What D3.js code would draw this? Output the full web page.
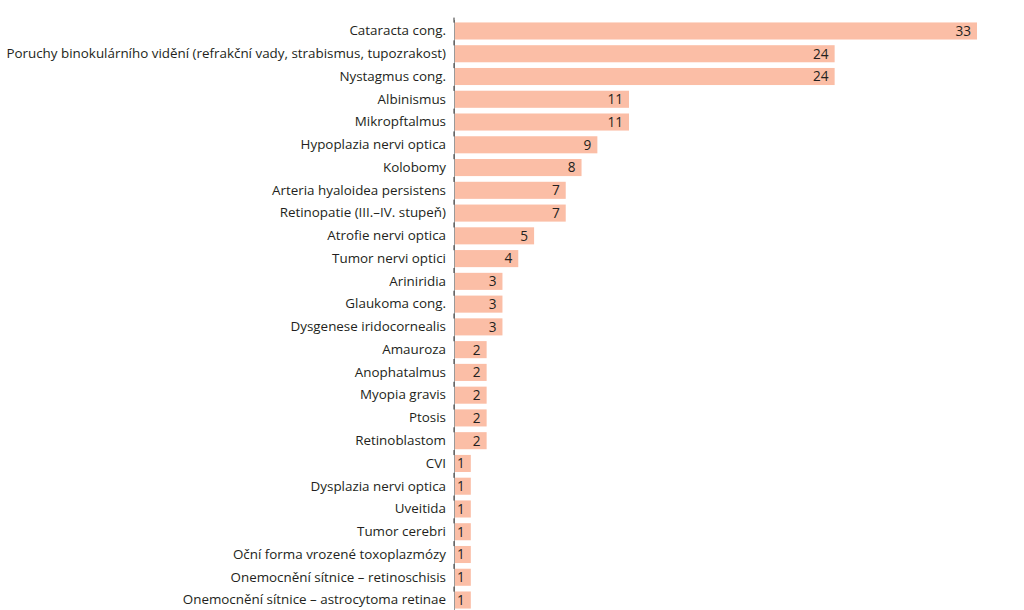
<!DOCTYPE html>
<html>
<head>
<meta charset="utf-8">
<script src="https://cdn.jsdelivr.net/npm/d3@7"></script>
<style>
  body { margin: 0; background: #fff; }
  text { font-family: "Open Sans", sans-serif; fill: #231f20; }
</style>
</head>
<body>
<svg id="chart" width="1024" height="610"></svg>
<script>
var labels = [
  "Cataracta cong.",
  "Poruchy binokulárního vidění (refrakční vady, strabismus, tupozrakost)",
  "Nystagmus cong.",
  "Albinismus",
  "Mikropftalmus",
  "Hypoplazia nervi optica",
  "Kolobomy",
  "Arteria hyaloidea persistens",
  "Retinopatie (III.–IV. stupeň)",
  "Atrofie nervi optica",
  "Tumor nervi optici",
  "Ariniridia",
  "Glaukoma cong.",
  "Dysgenese iridocornealis",
  "Amauroza",
  "Anophatalmus",
  "Myopia gravis",
  "Ptosis",
  "Retinoblastom",
  "CVI",
  "Dysplazia nervi optica",
  "Uveitida",
  "Tumor cerebri",
  "Oční forma vrozené toxoplazmózy",
  "Onemocnění sítnice – retinoschisis",
  "Onemocnění sítnice – astrocytoma retinae"
]
var values = [33, 24, 24, 11, 11, 9, 8, 7, 7, 5, 4, 3, 3, 3, 2, 2, 2, 2, 2, 1, 1, 1, 1, 1, 1, 1]

var svg = d3.select("#chart")
var x0 = 455

var x = d3.scaleLinear()
  .domain([0, 33])
  .range([x0, 977])

var y = d3.scaleBand()
  .domain(labels)
  .range([19.6, 611.4])
  .paddingInner(0.25)
  .paddingOuter(0.125)

// bars
svg.append("g")
  .attr("fill", "#fbbea6")
  .selectAll("rect")
  .data(values)
  .join("rect")
    .attr("x", x(0))
    .attr("y", (d, i) => y(labels[i]))
    .attr("width", d => x(d) - x(0))
    .attr("height", y.bandwidth())

// value labels
svg.append("g")
  .attr("font-size", 13.6)
  .attr("text-anchor", "end")
  .selectAll("text")
  .data(values)
  .join("text")
    .attr("x", d => x(d) - 6)
    .attr("y", (d, i) => y(labels[i]) + y.bandwidth() / 2)
    .attr("dy", "0.36em")
    .text(d => d)

// axis
var yAxis = d3.axisLeft(y).tickSize(0).tickPadding(8)
var g = svg.append("g")
  .attr("transform", `translate(${x0 - 1},0)`)
  .call(yAxis)
g.select(".domain").attr("stroke", "#9a9a9a")
g.selectAll(".tick text")
  .attr("font-size", 13.4)
  .attr("font-family", "Open Sans, sans-serif")
  .attr("fill", "#231f20")

// small dark marks at band boundaries
var bounds = labels.map(l => y(l) - y.step() * y.paddingInner() / 2)
g.selectAll(".sep")
  .data(bounds)
  .join("line")
    .attr("class", "sep")
    .attr("x1", 0).attr("x2", 0)
    .attr("y1", d => d - 2).attr("y2", d => d + 3)
    .attr("stroke", "#333")
</script>
</body>
</html>
